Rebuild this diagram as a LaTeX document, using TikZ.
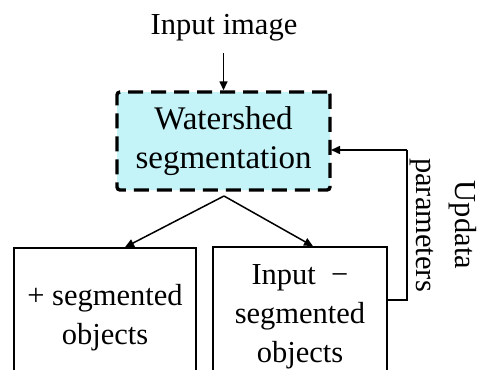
\documentclass[tikz,border=0pt]{standalone}
\usepackage{fontspec}
\setmainfont{Liberation Serif}
\usetikzlibrary{arrows.meta}
\definecolor{wsfill}{RGB}{196,244,248}
\begin{document}
\begin{tikzpicture}[x=1pt,y=-1pt,
  txt/.style={font=\fontsize{30.5}{39}\selectfont, align=center, inner sep=0pt},
  wsbox/.style={txt, font=\fontsize{33}{39}\selectfont, draw, fill=wsfill, line width=3.4pt,
    dash pattern=on 15pt off 8pt, rounded corners=3pt, minimum width=213pt, minimum height=98pt},
  outbox/.style={txt, draw, line width=1.6pt, minimum width=#1, minimum height=140pt},
  conn/.style={line width=1.5pt, -{Triangle[length=9pt,width=8pt]}},
  fb/.style={line width=1.5pt}]
\useasboundingbox (0,0) rectangle (478,369);
\clip (0,0) rectangle (478,369);

\node[txt] (in) at (224,28) {Input image};
\node[wsbox] (ws) at (223.5,141) {Watershed\\segmentation};
\node[outbox=182pt] (pos) at (105,318) {+ segmented\\objects};
\node[outbox=174pt] (neg) at (300,317) {Input~~\textminus\\segmented\\objects};
\node[txt, rotate=-90] (upd) at (443,225) {Updata\\parameters};

\coordinate (top) at (223.5,53);
\coordinate (apex) at (224,196);
\coordinate (fbout) at (387,300);
\coordinate (fbc1) at (407,300);
\coordinate (fbc2) at (407,150);
\coordinate (fbin) at (331,150);

\draw[conn] (top) -- (ws.north);
\draw[conn] (apex) -- (pos.north -| 125,0);
\draw[conn] (apex) -- (neg.north -| 313,0);
\draw[fb] (fbout) -- (fbc1) -- (fbc2);
\draw[conn] (fbc2) -- (fbin);
\end{tikzpicture}
\end{document}
